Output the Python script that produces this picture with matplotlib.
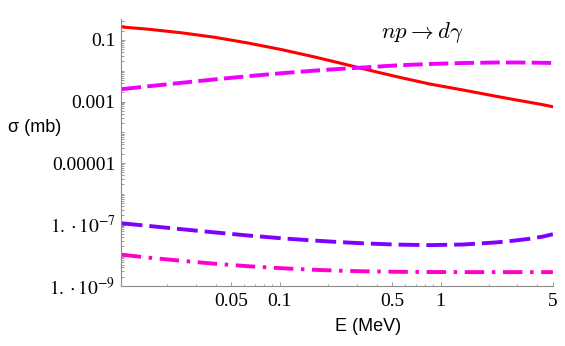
import numpy as np
import matplotlib
matplotlib.use("Agg")
import matplotlib.pyplot as plt
from matplotlib.ticker import FixedLocator, LogLocator, NullFormatter

# values (energy in MeV, cross section in mb)
energy = [0.0104, 0.0152, 0.0245, 0.0394, 0.0635, 0.1026, 0.165, 0.236, 0.329,
          0.531, 0.855, 1.377, 2.218, 2.80, 3.573, 4.32, 4.99]
sigma_red = [0.2648, 0.2245, 0.1714, 0.1224, 0.0798, 0.0487, 0.0280, 0.01786, 0.01166,
             0.00645, 0.00371, 0.002366, 0.001476, 0.001179, 0.000942, 0.000787, 0.000677]
sigma_magenta = [0.002512, 0.003121, 0.004055, 0.005232, 0.006648, 0.008323, 0.01011, 0.01149,
                 0.01275, 0.01493, 0.01658, 0.01786, 0.01854, 0.01854, 0.01841, 0.01813, 0.01786]
sigma_violet = [1.094e-7, 9.01e-8, 7.03e-8, 5.53e-8, 4.39e-8, 3.56e-8, 2.995e-8, 2.677e-8,
                2.447e-8, 2.220e-8, 2.138e-8, 2.237e-8, 2.617e-8, 2.951e-8, 3.428e-8,
                4.042e-8, 4.837e-8]
sigma_pink = [1.042e-8, 8.39e-9, 6.60e-9, 5.31e-9, 4.40e-9, 3.79e-9, 3.36e-9, 3.145e-9,
              3.006e-9, 2.896e-9, 2.853e-9, 2.83e-9, 2.83e-9, 2.83e-9, 2.83e-9, 2.83e-9, 2.83e-9]

xticks = [0.05, 0.1, 0.5, 1, 5]
xticklabels = ["0.05", "0.1", "0.5", "1", "5"]
yticks = [1e-9, 1e-7, 1e-5, 1e-3, 1e-1]
yticklabels = [r"$1.\cdot 10^{-9}$", r"$1.\cdot 10^{-7}$", "0.00001", "0.001", "0.1"]

plt.rcParams["lines.scale_dashes"] = False
plt.rcParams["mathtext.fontset"] = "stix"

fig = plt.figure(figsize=(5.65, 3.46), dpi=100)
ax = fig.add_axes([0.2142, 0.1734, 0.7646, 0.7717])

ax.plot(energy, sigma_red, color="#ff0000", lw=2.2, solid_joinstyle="round")
ax.plot(energy, sigma_magenta, color="#ee00ff", lw=2.8, dashes=(14, 4.5))
ax.plot(energy, sigma_violet, color="#7f00ff", lw=2.8, dashes=(15, 5))
ax.plot(energy, sigma_pink, color="#ff00cc", lw=2.8, dashes=(14, 5.5, 2.5, 5.5))

ax.set_xscale("log")
ax.set_yscale("log")
ax.set_xlim(0.0103, 5.0)
ax.set_ylim(1e-9, 0.482)

for s in ["top", "right"]:
    ax.spines[s].set_visible(False)
for s in ["left", "bottom"]:
    ax.spines[s].set_color("#8c8c8c")
    ax.spines[s].set_linewidth(0.8)

ax.xaxis.set_major_locator(FixedLocator(xticks))
ax.set_xticklabels(xticklabels)
ax.xaxis.set_minor_locator(LogLocator(base=10, subs=np.arange(1, 10), numticks=20))
ax.xaxis.set_minor_formatter(NullFormatter())
ax.yaxis.set_major_locator(FixedLocator(yticks))
ax.set_yticklabels(yticklabels)
ax.yaxis.set_minor_locator(LogLocator(base=10, subs=np.arange(1, 10), numticks=20))
ax.yaxis.set_minor_formatter(NullFormatter())

ax.tick_params(which="both", direction="in", color="#8c8c8c", width=0.6)
ax.tick_params(which="major", length=3.2)
ax.tick_params(which="minor", length=1.8)
ax.tick_params(axis="x", which="major", pad=5)
ax.tick_params(axis="y", which="major", pad=4)
for lab in ax.get_xticklabels() + ax.get_yticklabels():
    lab.set_fontfamily("Liberation Serif")
    lab.set_fontsize(14)

ax.set_xlabel("E (MeV)", fontsize=13, family="Liberation Sans", va="center")
ax.xaxis.set_label_coords(0.572, -0.15)
ax.set_ylabel("σ (mb)", fontsize=13, family="Liberation Sans", rotation=0,
              ha="center", va="center")
ax.yaxis.set_label_coords(-0.199, 0.592)

ax.text(0.697, 0.948, r"$np \rightarrow d\gamma$", transform=ax.transAxes,
        fontsize=16.5, ha="center", va="center", math_fontfamily="cm")

fig.savefig("out.png", dpi=100)
